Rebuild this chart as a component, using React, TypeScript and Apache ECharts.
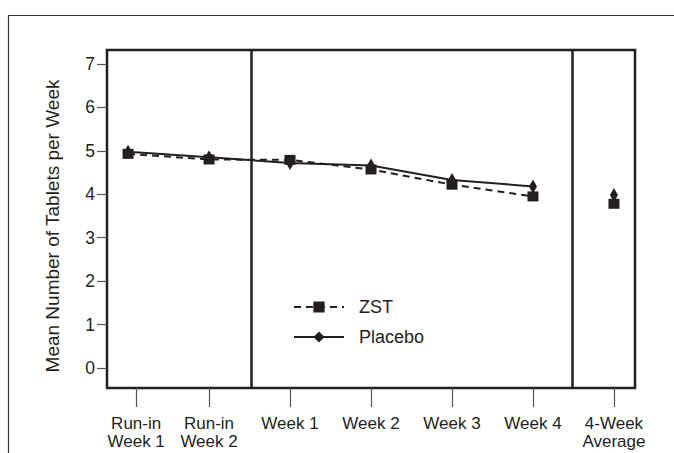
import React, { useEffect, useRef } from "react";
import * as echarts from "echarts";

const categories = [
  "Run-in\nWeek 1",
  "Run-in\nWeek 2",
  "Week 1",
  "Week 2",
  "Week 3",
  "Week 4",
  "4-Week\nAverage",
];
const pointPositions = [0, 1, 2, 3, 4, 5, 6];
const tickPositions = [0.1, 1, 2, 3, 4, 5, 6];
const zstValues = [4.93, 4.8, 4.79, 4.57, 4.22, 3.95, 3.78];
const placeboValues = [4.98, 4.85, 4.72, 4.66, 4.33, 4.18, 3.98];
const yTickValues = [0, 1, 2, 3, 4, 5, 6, 7];
const dividerPositions = [1.52, 5.49];

const INK = "#231f20";
const FONT = "'Liberation Sans', Arial, Helvetica, sans-serif";

function buildData(values: number[]) {
  const out: any[] = [];
  for (let i = 0; i < 6; i++) out.push([pointPositions[i], values[i]]);
  out.push([(pointPositions[5] + pointPositions[6]) / 2, "-"]);
  out.push([pointPositions[6], values[6]]);
  return out;
}

export default function App() {
  const ref = useRef<HTMLDivElement>(null);
  useEffect(() => {
    if (!ref.current) return;
    const chart = echarts.init(ref.current, null, { renderer: "svg" });
    chart.setOption({
      animation: false,
      backgroundColor: "#ffffff",
      grid: {
        left: 107,
        top: 50,
        right: 39,
        bottom: 65,
        show: true,
        borderColor: INK,
        borderWidth: 2.5,
        backgroundColor: "transparent",
      },
      xAxis: {
        type: "value",
        min: -0.26,
        max: 6.26,
        splitLine: { show: false },
        axisLine: { show: false, onZero: false },
        axisTick: {
          show: true,
          customValues: tickPositions,
          length: 19,
          inside: false,
          lineStyle: { color: "#555", width: 1.2 },
        },
        axisLabel: {
          customValues: tickPositions,
          margin: 27,
          fontSize: 17,
          lineHeight: 17.5,
          color: INK,
          fontFamily: FONT,
          formatter: (v: number) => {
            const idx = tickPositions.findIndex((t) => Math.abs(t - v) < 1e-6);
            return idx >= 0 ? categories[idx] : "";
          },
        },
      },
      yAxis: {
        type: "value",
        min: -0.46,
        max: 7.32,
        splitLine: { show: false },
        axisLine: { show: false, onZero: false },
        axisTick: {
          show: true,
          customValues: yTickValues,
          length: 10,
          lineStyle: { color: "#555", width: 1.2 },
        },
        axisLabel: {
          customValues: yTickValues,
          margin: 12,
          fontSize: 17.5,
          color: INK,
          fontFamily: FONT,
        },
      },
      legend: {
        orient: "vertical",
        left: 288,
        top: 293,
        itemWidth: 50,
        itemHeight: 14,
        itemGap: 12,
        textStyle: {
          fontSize: 18,
          color: INK,
          fontFamily: FONT,
          padding: [0, 0, 0, 10],
        },
        data: ["ZST", "Placebo"],
      },
      graphic: [
        {
          type: "rect",
          shape: { x: 8.5, y: 15.5, width: 720, height: 520 },
          style: { fill: "none", stroke: "#333", lineWidth: 1.2 },
          silent: true,
        },
        {
          type: "text",
          x: 52,
          y: 226,
          rotation: Math.PI / 2,
          style: {
            text: "Mean Number of Tablets per Week",
            font: `19px ${FONT}`,
            fill: INK,
            align: "center",
            verticalAlign: "middle",
            textAlign: "center",
            textVerticalAlign: "middle",
          },
          silent: true,
        },
      ],
      series: [
        {
          name: "ZST",
          type: "line",
          data: buildData(zstValues),
          connectNulls: false,
          symbol: "rect",
          symbolSize: [11, 10],
          showAllSymbol: true,
          itemStyle: { color: INK },
          lineStyle: { color: INK, width: 2, type: [7, 5] },
          markLine: {
            silent: true,
            symbol: "none",
            label: { show: false },
            lineStyle: { color: INK, width: 2.5, type: "solid" },
            data: dividerPositions.map((x) => ({ xAxis: x })),
          },
          z: 3,
        },
        {
          name: "Placebo",
          type: "line",
          data: buildData(placeboValues),
          connectNulls: false,
          symbol: "diamond",
          symbolSize: [8, 14],
          showAllSymbol: true,
          itemStyle: { color: INK },
          lineStyle: { color: INK, width: 2, type: "solid" },
          z: 4,
        },
      ],
    });
    return () => chart.dispose();
  }, []);
  return (
    <div
      ref={ref}
      style={{ position: "fixed", left: 0, top: 0, width: 674, height: 453, background: "#fff" }}
    />
  );
}
